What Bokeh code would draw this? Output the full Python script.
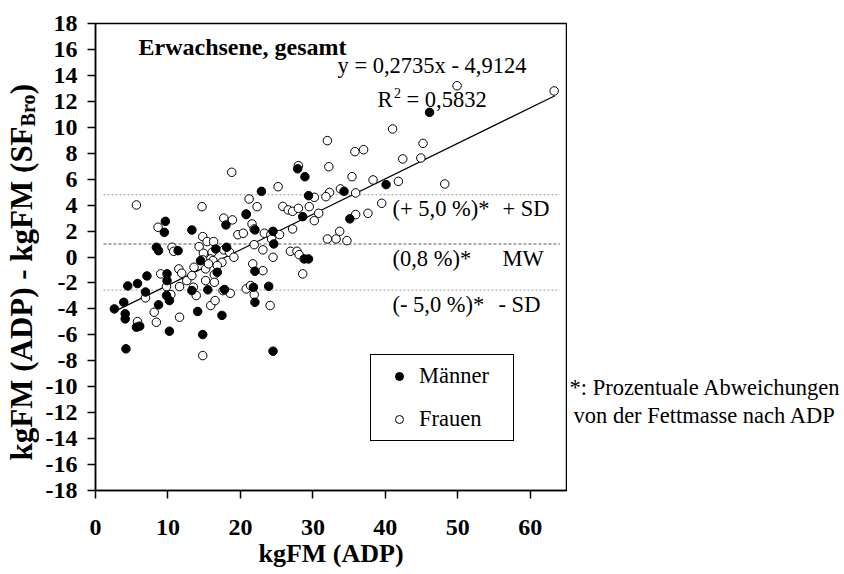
import numpy as np
from bokeh.plotting import figure
from bokeh.models import Label, Legend, LegendItem, Range1d
from bokeh.layouts import row
from bokeh.embed import file_html
from bokeh.resources import INLINE

# ---------------- data ----------------
men_x = [9.64, 9.5, 13.3, 18.0, 20.8, 8.4, 8.7, 11.4, 9.87, 9.87, 7.1, 5.8, 4.45, 6.9,
         3.9, 2.6, 4.1, 4.1, 5.65, 6.1, 4.2, 10.2, 8.7, 14.1, 14.8, 17.45, 10.2, 9.8,
         13.3, 16.6, 18.1, 14.5, 16.8, 15.5, 17.8,
         27.9, 28.9, 40.1, 22.9, 29.4, 34.3, 35.1, 28.6, 20.8, 22.0, 24.5, 24.6, 28.8,
         29.4, 22.0, 21.8, 22.0, 23.9, 24.5, 46.1]
men_y = [2.75, 1.9, 2.08, 2.47, 3.32, 0.75, 0.49, 0.49, -1.3, -1.82, -1.46, -2.05, -2.23, -2.7,
         -3.49, -4.0, -4.38, -4.77, -5.41, -5.33, -7.08, -5.72, -3.69, -4.2, -5.98, -4.5, -3.36, -2.97,
         -2.59, 0.62, 0.75, -0.28, -1.18, -2.53, -2.51,
         6.8, 6.19, 5.58, 5.06, 4.73, 5.06, 2.94, 3.11, 3.27, 2.09, 1.98, 1.01, -0.15,
         -0.15, -1.1, -2.33, -3.49, -2.26, -7.26, 11.15]

women_x = [5.65, 14.7, 21.2, 8.63, 17.7, 18.9, 19.65, 20.4, 14.8, 14.3, 15.4, 16.3,
           10.56, 10.8, 11.5, 11.9, 9.0, 6.9, 5.8, 8.4, 8.1, 11.6, 14.8, 15.9, 16.5,
           13.9, 10.4, 9.8, 11.6, 12.6, 13.3, 13.5, 15.2, 17.7, 18.5, 19.1, 16.1, 14.9,
           15.9, 14.8, 16.2, 17.45, 13.6, 15.2, 15.6, 16.8, 16.4, 16.4, 17.6, 18.6, 18.8,
           28.0, 32.2, 35.4, 38.3, 41.8, 25.2, 22.3, 30.2, 32.3, 31.8, 33.8, 35.9, 39.5,
           37.6, 35.9, 25.85, 26.6, 27.2, 28.0, 29.5, 30.8, 30.2, 27.2, 21.6, 21.9, 23.3,
           24.2, 25.4, 24.3, 21.9, 23.1, 24.5, 32.0, 33.2, 33.7, 34.7, 26.9, 27.8, 28.1,
           28.6, 21.7, 23.1, 20.8, 21.4, 21.9, 24.1,
           49.9, 63.3, 41.0, 45.2, 42.4, 44.9, 48.2, 32.0, 35.8, 37.0]
women_y = [4.01, 3.88, 4.47, 2.29, 3.0, 2.86, 1.72, 1.83, 1.57, 0.8, 1.19, 1.19,
           0.75, 0.44, -0.92, -1.25, -1.3, -3.15, -4.98, -5.03, -4.26, -4.64, -7.6, -3.74, -3.36,
           -2.97, -2.9, -2.28, -2.28, -1.82, -1.43, -2.33, -1.82, 0.55, 0.36, -0.02, 0.36, 0.29,
           -0.15, -0.22, -0.28, -0.41, -0.79, -0.92, -0.53, -0.66, -1.36, -1.95, -2.59, -2.8, 6.53,
           7.04, 6.96, 6.19, 5.94, 5.83, 5.42, 3.88, 4.6, 4.98, 4.65, 5.25, 4.94, 4.14,
           3.37, 3.27, 3.9, 3.63, 3.52, 3.75, 3.88, 3.37, 2.8, 2.16, 2.55, 2.16, 1.83,
           1.73, 1.73, 1.39, 0.95, 0.55, -0.02, 1.39, 1.39, 1.98, 1.26, 0.44, 0.44, 0.18,
           -1.3, -0.53, -1.05, -2.46, -2.2, -2.9, -3.74,
           13.2, 12.8, 9.87, 8.76, 7.56, 7.63, 5.63, 8.97, 8.12, 8.27]

x_ticks = [0, 10, 20, 30, 40, 50, 60]
y_ticks = list(range(-18, 19, 2))

reg_slope = 0.2735
reg_intercept = -4.9124
reg_x = [3.2, 63.4]

sd_levels = [4.8, 1.0, -2.55]          # +SD, MW, -SD
sd_texts = ["(+ 5,0 %)*", "(0,8 %)*", "(- 5,0 %)*"]
sd_names = ["+ SD", "MW", "- SD"]

# ---------------- geometry (page pixels) ----------------
W, H = 844, 574
WL = 39                        # left strip (y-axis title)
FL, FT, FW, FH = 95, 23, 471, 467
FB = FT + FH                   # frame bottom (page y)
BOT = H - FB                   # border below frame (tick labels + x title)
WM = FL + FW + 1 - WL          # main figure width
WR = W - WL - WM               # right strip (footnote)
XMIN, XMAX, YMIN, YMAX = 0.0, 65.0, -18.0, 18.0
SERIF = "Liberation Serif"


def dx(px):
    return XMIN + (px - FL) * (XMAX - XMIN) / FW


def dy(py):
    return YMAX - (py - FT) * (YMAX - YMIN) / FH


def add_text(fig, x, y, text, size="22.5px", bold=False, align="left", angle=0.0):
    fig.add_layout(Label(x=x, y=y, text=text, text_font=SERIF,
                         text_font_size=size, text_font_style="bold" if bold else "normal",
                         text_color="black", text_baseline="middle", text_align=align,
                         angle=angle))


def strip(width, height, xr, yr, **borders):
    f = figure(width=width, height=height, x_range=Range1d(*xr), y_range=Range1d(*yr),
               x_axis_type=None, y_axis_type=None, output_backend="svg", title=None,
               toolbar_location=None, outline_line_color=None, **borders)
    f.xgrid.grid_line_color = None
    f.ygrid.grid_line_color = None
    return f


# ---------------- main figure ----------------
p = figure(width=WM, height=H, x_range=(XMIN, XMAX), y_range=(YMIN, YMAX),
           output_backend="svg", toolbar_location=None, title=None,
           min_border_left=FL - WL, min_border_right=1,
           min_border_top=FT, min_border_bottom=BOT)

p.xgrid.grid_line_color = None
p.ygrid.grid_line_color = None
p.outline_line_color = "black"
p.outline_line_width = 1.5
p.outline_line_alpha = 1.0

for ax in (p.xaxis[0], p.yaxis[0]):
    ax.axis_line_width = 1.5
    ax.major_tick_line_width = 1.5
    ax.major_tick_in = 0
    ax.major_tick_out = 8
    ax.minor_tick_line_color = None
    ax.major_label_text_font = SERIF
    ax.major_label_text_font_style = "bold"
    ax.major_label_text_font_size = "24px"
    ax.major_label_text_color = "black"

p.xaxis.ticker = x_ticks
p.yaxis.ticker = y_ticks
p.yaxis.major_label_overrides = {t: str(t) for t in y_ticks}
p.xaxis.major_label_overrides = {t: str(t) for t in x_ticks}
p.xaxis.major_label_standoff = 21
p.yaxis.major_label_standoff = 10

p.xaxis.axis_label = "kgFM (ADP)"
p.xaxis.axis_label_text_font = SERIF
p.xaxis.axis_label_text_font_style = "bold"
p.xaxis.axis_label_text_font_size = "26px"
p.xaxis.axis_label_text_color = "black"
p.xaxis.axis_label_standoff = 1

# reference lines (+SD, MW, -SD)
line_x0, line_x1 = 1.1, 64.1
p.segment(x0=[line_x0], y0=[sd_levels[0]], x1=[line_x1], y1=[sd_levels[0]],
          line_color="#9a9a9a", line_width=1, line_dash="2 2")
p.segment(x0=[line_x0], y0=[sd_levels[1]], x1=[line_x1], y1=[sd_levels[1]],
          line_color="#555555", line_width=1, line_dash="3 2")
p.segment(x0=[line_x0], y0=[sd_levels[2]], x1=[line_x1], y1=[sd_levels[2]],
          line_color="#9a9a9a", line_width=1, line_dash="2 2")

# regression line
reg_y = [reg_slope * v + reg_intercept for v in reg_x]
p.line(reg_x, reg_y, line_color="black", line_width=1.2)

# points
r_w = p.scatter(women_x, women_y, marker="circle", size=8.5, fill_color="white",
                line_color="black", line_width=1)
r_m = p.scatter(men_x, men_y, marker="circle", size=8.5, fill_color="black",
                line_color="black", line_width=1)

legend = Legend(items=[LegendItem(label="Männer", renderers=[r_m]),
                       LegendItem(label="Frauen", renderers=[r_w])],
                location=(275, 49), orientation="vertical",
                border_line_color="black", border_line_width=1, border_line_alpha=1,
                background_fill_color="white", background_fill_alpha=1,
                padding=8, spacing=17, margin=0,
                glyph_width=40, glyph_height=20, label_height=25, label_width=86,
                label_standoff=0,
                label_text_font=SERIF, label_text_font_size="22.5px", label_text_color="black")
p.add_layout(legend)

# annotations inside the plot frame (page pixel positions of text centres -> data)
add_text(p, dx(138), dy(46.5), "Erwachsene, gesamt", size="24px", bold=True)
add_text(p, dx(337), dy(65), "y = 0,2735x - 4,9124")
add_text(p, dx(377), dy(98.5), "R")
add_text(p, dx(393.5), dy(92), "2", size="14px")
add_text(p, dx(406), dy(98.5), "= 0,5832")

add_text(p, dx(392), dy(207.5), sd_texts[0])
add_text(p, dx(502), dy(207.5), sd_names[0])
add_text(p, dx(392), dy(257.5), sd_texts[1])
add_text(p, dx(502), dy(257.5), sd_names[1])
add_text(p, dx(392), dy(304), sd_texts[2])
add_text(p, dx(498), dy(304), sd_names[2])

# ---------------- left strip: y-axis title with subscript ----------------
# data coordinates of the strips: x = page x, y = H - page y
left = strip(WL, H, (0, WL), (H - FB, H - FT),
             min_border_left=0, min_border_right=0, min_border_top=FT, min_border_bottom=BOT)
ang = np.pi / 2
main_size, sub_size = 31, 20
main_w = 10.776 * main_size      # approx. advance of the main part (Times bold metrics)
sub_w = 1.611 * sub_size
y0 = 460
add_text(left, 20.5, H - y0, "kgFM (ADP) - kgFM (SF", size=f"{main_size}px", bold=True, angle=ang)
add_text(left, 27.5, H - (y0 - main_w), "Bro", size=f"{sub_size}px", bold=True, angle=ang)
add_text(left, 20.5, H - (y0 - main_w - sub_w), ")", size=f"{main_size}px", bold=True, angle=ang)

# ---------------- right strip: footnote ----------------
RX0 = FL + FW + 1
right = strip(WR, H, (RX0, W), (H - FB, H - FT),
              min_border_left=0, min_border_right=0, min_border_top=FT, min_border_bottom=BOT)
add_text(right, 569, H - 387, "*: Prozentuale Abweichungen")
add_text(right, 573, H - 415, "von der Fettmasse nach ADP")

layout = row(left, p, right)
open("out.html", "w").write(file_html(layout, INLINE))
